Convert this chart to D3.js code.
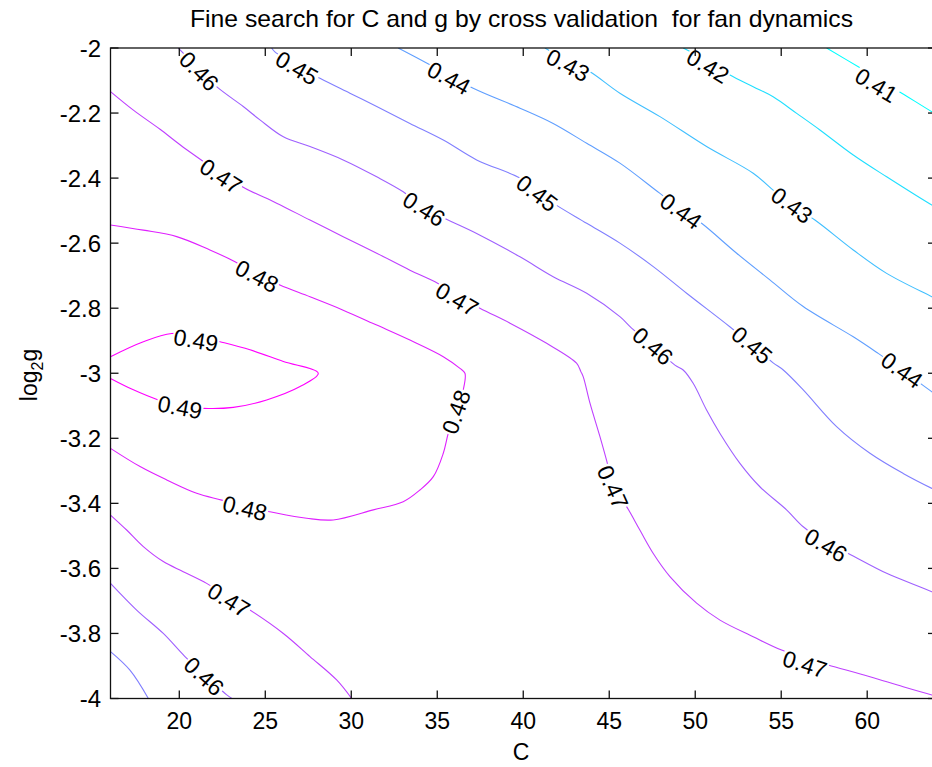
<!DOCTYPE html>
<html>
<head>
<meta charset="utf-8">
<script src="https://cdn.jsdelivr.net/npm/d3@7"></script>
<style>
  html, body { margin: 0; padding: 0; background: #fff; }
  svg { display: block; }
  text { font-family: "Liberation Sans", Arial, Helvetica, sans-serif; fill: #000; white-space: pre; }
</style>
</head>
<body>
<svg id="chart" width="932" height="767"></svg>
<script>
// Axis ticks
const C_TICKS = [20, 25, 30, 35, 40, 45, 50, 55, 60];
const G_TICKS = [-2, -2.2, -2.4, -2.6, -2.8, -3, -3.2, -3.4, -3.6, -3.8, -4];
const C_RANGE = [16, 64];
const G_RANGE = [-2, -4];

// Contour lines of cross-validation accuracy, as [C, log2 g] vertices
const c041 = [[57.64, -2], [59.58, -2.061], [61.71, -2.129], [63.76, -2.196], [64, -2.203]];
const c042 = [[49.30, -2], [50.74, -2.040], [52.02, -2.083], [53.37, -2.119], [54.53, -2.150], [55.90, -2.201],
  [57.25, -2.252], [59.19, -2.329], [61.13, -2.396], [63.76, -2.483], [64, -2.49]];
const c043 = [[41.26, -2], [42.60, -2.040], [43.88, -2.073], [45.62, -2.139], [47.95, -2.211], [50.66, -2.303],
  [53.37, -2.385], [54.60, -2.440], [55.62, -2.483], [56.96, -2.529], [59.19, -2.621], [61.13, -2.693],
  [63.76, -2.765], [64, -2.772]];
const c044 = [[32.73, -2], [34.38, -2.046], [37.09, -2.124], [39.81, -2.185], [41.74, -2.232], [43.69, -2.293],
  [45.62, -2.354], [47.95, -2.447], [49.17, -2.495], [50.37, -2.539], [52.41, -2.631], [54.34, -2.713],
  [56.28, -2.795], [59.19, -2.888], [60.64, -2.939], [62.02, -2.990], [63.76, -3.057], [64, -3.065]];
const c045a = [[25.37, -2], [25.56, -2.012], [26.84, -2.055], [28.18, -2.093], [29.92, -2.139], [31.48, -2.180],
  [33.41, -2.232], [35.35, -2.283], [37.29, -2.344], [39.81, -2.400], [40.80, -2.440], [41.74, -2.477],
  [43.69, -2.539], [45.62, -2.600], [47.56, -2.672], [49.50, -2.754], [52.01, -2.857], [53.30, -2.913],
  [54.53, -2.968], [55.12, -2.990], [56.28, -3.051], [58.22, -3.164], [60.16, -3.246], [62.09, -3.308],
  [63.76, -3.354], [64, -3.36]];
const c045b = [[16, -3.856], [17.13, -3.913], [18.20, -4]];
const c046a = [[19.94, -2], [21.15, -2.065], [22.17, -2.119], [23.72, -2.180], [24.69, -2.221], [26.05, -2.273],
  [27.60, -2.303], [29.53, -2.344], [31.48, -2.396], [33.02, -2.442], [34.23, -2.490], [35.45, -2.524],
  [37.29, -2.570], [39.81, -2.642], [41.74, -2.703], [43.69, -2.754], [45.62, -2.826], [46.30, -2.861],
  [47.54, -2.916], [48.82, -2.975], [49.30, -2.990], [49.88, -3.031], [50.66, -3.113], [51.44, -3.185],
  [52.60, -3.277], [53.76, -3.349], [55.31, -3.420], [56.28, -3.472], [57.60, -3.520], [58.90, -3.554],
  [61.13, -3.615], [63.76, -3.672], [64, -3.68]];
const c046b = [[16, -3.646], [17.52, -3.728], [19.07, -3.800], [20.33, -3.871], [21.44, -3.925], [22.76, -3.989], [23.06, -4]];
const c047a = [[16, -2.134], [17.33, -2.191], [18.88, -2.250], [20.23, -2.305], [22.42, -2.385],
  [23.82, -2.431], [25.66, -2.477], [27.60, -2.529], [29.53, -2.580], [31.48, -2.631], [33.41, -2.683],
  [34.87, -2.719], [36.15, -2.760], [37.48, -2.800], [39.23, -2.846], [41.36, -2.908], [43.10, -2.969],
  [43.35, -2.995], [43.49, -3.011], [43.88, -3.092], [44.46, -3.195], [44.94, -3.287], [45.22, -3.350],
  [46.01, -3.410], [46.78, -3.482], [47.56, -3.554], [48.53, -3.625], [50.08, -3.707], [51.44, -3.759],
  [53.37, -3.810], [55.02, -3.851], [56.38, -3.876], [57.73, -3.897], [60.16, -3.933], [62.09, -3.964],
  [63.76, -3.989], [64, -3.992]];
const c047b = [[16, -3.436], [16.94, -3.482], [17.91, -3.533], [19.07, -3.579], [20.23, -3.610], [21.59, -3.646],
  [22.89, -3.690], [24.11, -3.728], [26.05, -3.800], [27.60, -3.871], [29.15, -3.943], [30.02, -4]];
const c048 = [[16, -2.544], [17.91, -2.560], [19.85, -2.580], [21.78, -2.621], [23.24, -2.657], [24.52, -2.695],
  [25.85, -2.729], [27.60, -2.765], [29.53, -2.806], [31.48, -2.852], [33.41, -2.898], [35.35, -2.949],
  [36.32, -2.985], [36.61, -3.0], [36.51, -3.051], [36.09, -3.119], [35.64, -3.185], [35.35, -3.246],
  [34.77, -3.318], [33.99, -3.359], [33.02, -3.395], [31.28, -3.420], [28.95, -3.451], [27.41, -3.446],
  [25.27, -3.426], [23.82, -3.410], [22.47, -3.390], [21.01, -3.369], [19.27, -3.328], [17.72, -3.287],
  [16, -3.231]];
const c049 = [[16, -2.949], [17.91, -2.903], [19.56, -2.878], [20.97, -2.885], [22.37, -2.903], [24.11, -2.928],
  [26.05, -2.964], [28.08, -3.0], [27.02, -3.041], [25.08, -3.082], [23.14, -3.105], [21.40, -3.108],
  [20.04, -3.100], [18.78, -3.082], [17.33, -3.051], [16, -3.016]];

const contourLines = [
  { level: 0.41, pts: c041 }, { level: 0.42, pts: c042 }, { level: 0.43, pts: c043 },
  { level: 0.44, pts: c044 }, { level: 0.45, pts: c045a }, { level: 0.45, pts: c045b },
  { level: 0.46, pts: c046a }, { level: 0.46, pts: c046b }, { level: 0.47, pts: c047a },
  { level: 0.47, pts: c047b }, { level: 0.48, pts: c048 }, { level: 0.49, pts: c049 }
];

// Inline contour labels: [level, C, log2 g, index of the line it sits on]
const labelSpots = [
  [0.41, 60.53, -2.114, 0],
  [0.42, 50.74, -2.055, 1],
  [0.43, 42.60, -2.052, 2], [0.43, 55.62, -2.483, 2],
  [0.44, 35.68, -2.092, 3], [0.44, 49.17, -2.501, 3], [0.44, 62.02, -2.990, 3],
  [0.45, 26.84, -2.061, 4], [0.45, 40.80, -2.446, 4], [0.45, 53.30, -2.913, 4],
  [0.46, 21.15, -2.071, 6], [0.46, 34.23, -2.495, 6], [0.46, 47.54, -2.916, 6], [0.46, 57.60, -3.528, 6],
  [0.46, 21.44, -3.931, 7],
  [0.47, 22.42, -2.394, 8], [0.47, 36.15, -2.772, 8], [0.47, 45.22, -3.350, 8], [0.47, 56.38, -3.894, 8],
  [0.47, 22.89, -3.697, 9],
  [0.48, 24.52, -2.701, 10], [0.48, 36.09, -3.119, 10], [0.48, 23.82, -3.414, 10],
  [0.49, 20.97, -2.898, 11], [0.49, 20.04, -3.104, 11]
];

const TITLE = "Fine search for C and g by cross validation  for fan dynamics";

const svg = d3.select("#chart");
const x = d3.scaleLinear().domain(C_RANGE).range([110.5, 936]);
const y = d3.scaleLinear().domain(G_RANGE).range([48, 698.5]);
const LEVEL_MIN = 0.41, LEVEL_MAX = 0.49;

// "cool" colormap: cyan at the low end, magenta at the high end
const cool = v => {
  const t = (v - LEVEL_MIN) / (LEVEL_MAX - LEVEL_MIN);
  return d3.rgb(255 * t, 255 * (1 - t), 255).toString();
};

svg.append("defs").append("clipPath").attr("id", "plotClip")
  .append("rect").attr("x", x(16)).attr("y", y(-2)).attr("width", x(64) - x(16)).attr("height", y(-4) - y(-2));

const plot = svg.append("g").attr("clip-path", "url(#plotClip)");
const line = d3.line().x(d => x(d[0])).y(d => y(d[1])).curve(d3.curveCatmullRom.alpha(0.5));

plot.selectAll("path.contour").data(contourLines).join("path")
  .attr("class", "contour")
  .attr("d", d => line(d.pts))
  .attr("fill", "none")
  .attr("stroke", d => cool(d.level))
  .attr("stroke-width", 1.1);

// Direction of a polyline near a given pixel point
function localAngle(pts, px, py) {
  const P = pts.map(d => [x(d[0]), y(d[1])]);
  const cum = [0];
  for (let i = 1; i < P.length; i++) cum.push(cum[i - 1] + Math.hypot(P[i][0] - P[i - 1][0], P[i][1] - P[i - 1][1]));
  let best = { dist: Infinity, s: 0 };
  for (let i = 1; i < P.length; i++) {
    const ax = P[i - 1][0], ay = P[i - 1][1], bx = P[i][0], by = P[i][1];
    const L2 = (bx - ax) ** 2 + (by - ay) ** 2 || 1;
    let t = ((px - ax) * (bx - ax) + (py - ay) * (by - ay)) / L2;
    t = Math.max(0, Math.min(1, t));
    const qx = ax + t * (bx - ax), qy = ay + t * (by - ay);
    const dd = Math.hypot(px - qx, py - qy);
    if (dd < best.dist) best = { dist: dd, s: cum[i - 1] + t * Math.sqrt(L2) };
  }
  const at = s => {
    s = Math.max(0, Math.min(cum[cum.length - 1], s));
    let i = 1;
    while (i < cum.length - 1 && cum[i] < s) i++;
    const f = (s - cum[i - 1]) / ((cum[i] - cum[i - 1]) || 1);
    return [P[i - 1][0] + f * (P[i][0] - P[i - 1][0]), P[i - 1][1] + f * (P[i][1] - P[i - 1][1])];
  };
  const a = at(best.s - 18), b = at(best.s + 18);
  let ang = Math.atan2(b[1] - a[1], b[0] - a[0]) * 180 / Math.PI;
  if (ang > 90) ang -= 180;
  if (ang < -90) ang += 180;
  return ang;
}

const FONT = 23;
const labels = plot.selectAll("g.clabel").data(labelSpots).join("g")
  .attr("class", "clabel")
  .attr("transform", d => {
    const px = x(d[1]), py = y(d[2]);
    return `translate(${px},${py}) rotate(${localAngle(contourLines[d[3]].pts, px, py)})`;
  });
labels.append("rect").attr("fill", "#fff");
labels.append("text")
  .attr("text-anchor", "middle")
  .attr("dy", "0.36em")
  .style("font-size", FONT + "px")
  .text(d => d[0].toFixed(2));
labels.each(function () {
  const g = d3.select(this);
  const w = g.select("text").node().getComputedTextLength();
  g.select("rect").attr("x", -w / 2 - 1).attr("y", -FONT * 0.36).attr("width", w + 2).attr("height", FONT * 0.72);
});

// Frame and inward ticks on all four sides
const frame = svg.append("g").attr("stroke", "#111").attr("stroke-width", 1.3).attr("fill", "none");
frame.append("rect").attr("x", x(16)).attr("y", y(-2)).attr("width", x(64) - x(16)).attr("height", y(-4) - y(-2));
const TL = 8;
C_TICKS.forEach(c => {
  frame.append("line").attr("x1", x(c)).attr("x2", x(c)).attr("y1", y(-4)).attr("y2", y(-4) - TL);
  frame.append("line").attr("x1", x(c)).attr("x2", x(c)).attr("y1", y(-2)).attr("y2", y(-2) + TL);
});
G_TICKS.forEach(g => {
  frame.append("line").attr("x1", x(16)).attr("x2", x(16) + TL).attr("y1", y(g)).attr("y2", y(g));
  frame.append("line").attr("x1", x(64)).attr("x2", x(64) - TL).attr("y1", y(g)).attr("y2", y(g));
});

// Tick labels (plain hyphen for the minus sign)
svg.append("g").selectAll("text").data(C_TICKS).join("text")
  .attr("x", d => x(d)).attr("y", 729)
  .attr("text-anchor", "middle")
  .style("font-size", FONT + "px")
  .text(d => String(d));
svg.append("g").selectAll("text").data(G_TICKS).join("text")
  .attr("x", 101).attr("y", d => y(d)).attr("dy", "0.36em")
  .attr("text-anchor", "end")
  .style("font-size", "24px")
  .text(d => String(d));

// Axis titles
svg.append("text").attr("x", 521).attr("y", 760).attr("text-anchor", "middle")
  .style("font-size", FONT + "px").text("C");
const yl = svg.append("text").attr("transform", "translate(37,375) rotate(-90)")
  .attr("text-anchor", "middle").style("font-size", FONT + "px");
yl.append("tspan").text("log");
yl.append("tspan").attr("dy", 6).style("font-size", "16px").text("2");
yl.append("tspan").attr("dy", -6).text("g");

svg.append("text").attr("x", 190).attr("y", 27)
  .attr("textLength", 663).attr("lengthAdjust", "spacingAndGlyphs")
  .style("font-size", "24px").text(TITLE);
</script>
</body>
</html>
